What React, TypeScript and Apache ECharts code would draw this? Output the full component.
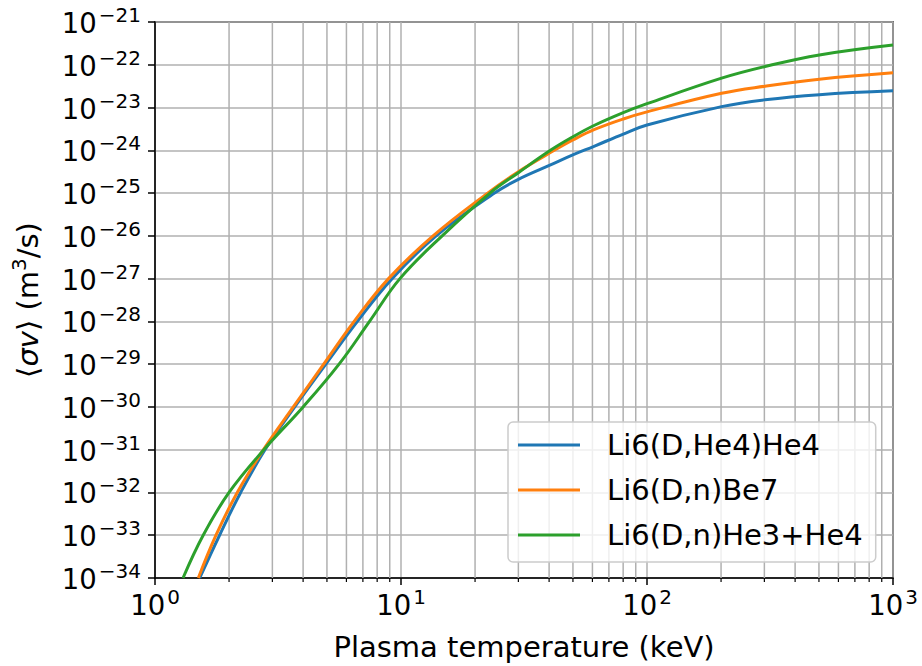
import React, { useEffect, useRef } from "react";
import * as echarts from "echarts";

// ---- data (T in keV, <sigma v> in m^3/s) ----
const seriesNames = ["Li6(D,He4)He4", "Li6(D,n)Be7", "Li6(D,n)He3+He4"];
const seriesColors = ["#1f77b4", "#ff7f0e", "#2ca02c"];

const blueT = [1.52, 1.83, 2.23, 2.8, 3.7, 4.95, 6.65, 9.2, 13.9, 24, 30, 40.3, 50.2, 60.9, 80.1, 100, 201, 302, 502, 1000];
const blueSV = [1e-34, 1e-33, 1e-32, 1e-31, 1e-30, 1e-29, 1e-28, 1e-27, 1e-26, 1e-25, 2.1e-25, 4.5e-25, 7.9e-25, 1.24e-24, 2.4e-24, 3.9e-24, 1.05e-23, 1.52e-23, 2.0e-23, 2.46e-23];

const orangeT = [1.5, 1.77, 2.16, 2.76, 3.65, 4.85, 6.45, 8.9, 13.5, 22.5, 30, 42, 50.2, 60.9, 80.1, 100, 201, 302, 502, 1000];
const orangeSV = [1e-34, 1e-33, 1e-32, 1e-31, 1e-30, 1e-29, 1e-28, 1e-27, 1e-26, 1e-25, 3.15e-25, 1e-24, 1.77e-24, 3.03e-24, 5.4e-24, 7.9e-24, 2.15e-23, 3.15e-23, 4.6e-23, 6.5e-23];

const greenT = [1.3, 1.57, 2.0, 2.77, 4.0, 5.6, 7.45, 9.9, 14.7, 23, 30, 40.5, 50.2, 60.9, 80.1, 100, 201, 302, 502, 1000];
const greenSV = [1e-34, 1e-33, 1e-32, 1e-31, 1e-30, 1e-29, 1e-28, 1e-27, 1e-26, 1e-25, 3.0e-25, 1e-24, 2.1e-24, 3.8e-24, 7.6e-24, 1.23e-23, 4.86e-23, 9.1e-23, 1.7e-22, 2.9e-22];

const xMin = 1;
const xMax = 1000;
// y axis drawn in decades (log10 of <sigma v>)
const yMinExp = -34;
const yMaxExp = -21;
const minorXTicks = [2, 3, 4, 5, 6, 7, 8, 9, 20, 30, 40, 50, 60, 70, 80, 90, 200, 300, 400, 500, 600, 700, 800, 900];

const xTitle = "Plasma temperature (keV)";

const FONT = "DejaVu Sans";

function expLabel(e: number): string {
  const s = e < 0 ? "\u2212" + String(-e) : String(e);
  return `{b|10}{s|${s}}`;
}

const tickRich = {
  b: { fontSize: 27.5, fontFamily: FONT, color: "#000", lineHeight: 30, verticalAlign: "bottom" },
  s: { fontSize: 20, fontFamily: FONT, color: "#000", lineHeight: 22, padding: [0, 0, 12, 2], verticalAlign: "bottom" },
};

export default function App() {
  const ref = useRef<HTMLDivElement>(null);
  useEffect(() => {
    if (!ref.current) return;
    const chart = echarts.init(ref.current, undefined, { renderer: "svg" });
    const tData = [blueT, orangeT, greenT];
    const vData = [blueSV, orangeSV, greenSV];
    const lineSeries = seriesNames.map((name, k) => ({
      type: "line",
      name,
      data: tData[k].map((t, i) => [t, Math.log10(vData[k][i])]),
      smooth: 0.4,
      symbol: "none",
      showSymbol: false,
      lineStyle: { width: 3, color: seriesColors[k] },
      itemStyle: { color: seriesColors[k] },
      z: 3,
    }));
    const option: any = {
      animation: false,
      grid: {
        left: 155,
        right: 29,
        top: 22,
        bottom: 88,
        containLabel: false,
        outerBoundsMode: "none",
        show: true,
        borderColor: "#000",
        borderWidth: 1.5,
        backgroundColor: "transparent",
      },
      legend: {
        data: seriesNames.map((n) => ({ name: n, icon: "rect" })),
        orient: "vertical",
        left: 508,
        top: 422,
        padding: [8, 13, 12, 10],
        itemWidth: 62,
        itemHeight: 3,
        itemGap: 15,
        backgroundColor: "rgba(255,255,255,0.8)",
        borderColor: "#cccccc",
        borderWidth: 1.5,
        borderRadius: 5,
        textStyle: { fontSize: 29, fontFamily: FONT, color: "#000", lineHeight: 30, padding: [0, 0, 0, 22] },
      },
      xAxis: {
        type: "log",
        logBase: 10,
        min: xMin,
        max: xMax,
        name: xTitle,
        nameLocation: "middle",
        nameGap: 52,
        nameTextStyle: { fontSize: 29, fontFamily: FONT, color: "#000", lineHeight: 34 },
        axisLine: { show: true, lineStyle: { color: "#000", width: 1.5 } },
        axisTick: { show: true, inside: false, length: 7, lineStyle: { color: "#000", width: 1.5 } },
        axisLabel: {
          margin: 11,
          formatter: (v: number) => expLabel(Math.round(Math.log10(v))),
          rich: tickRich,
          color: "#000",
        },
        splitLine: { show: true, lineStyle: { color: "#b0b0b0", width: 1.5 } },
        minorTick: { show: false },
      },
      yAxis: {
        type: "value",
        min: yMinExp,
        max: yMaxExp,
        interval: 1,
        name: "{n|\u27e8}{i|\u03c3v}{n|\u27e9 (m}{s|3}{n|/s)}",
        nameLocation: "middle",
        nameGap: 113,
        nameRotate: 90,
        nameTextStyle: {
          rich: {
            n: { fontSize: 29, fontFamily: FONT, color: "#000", lineHeight: 34, verticalAlign: "bottom" },
            i: { fontSize: 29, fontFamily: FONT, fontStyle: "italic", color: "#000", lineHeight: 34, verticalAlign: "bottom" },
            s: { fontSize: 20, fontFamily: FONT, color: "#000", lineHeight: 24, padding: [0, 0, 13, 0], verticalAlign: "bottom" },
          },
        },
        axisLine: { show: true, onZero: false, lineStyle: { color: "#000", width: 1.5 } },
        axisTick: { show: true, inside: false, length: 7, lineStyle: { color: "#000", width: 1.5 } },
        axisLabel: { margin: 14, formatter: (v: number) => expLabel(Math.round(v)), rich: tickRich, color: "#000" },
        splitLine: { show: true, lineStyle: { color: "#b0b0b0", width: 1.5 } },
      },
      series: [
        {
          type: "custom",
          silent: true,
          clip: false,
          z: 1,
          data: minorXTicks.map((t) => [t, yMinExp]),
          renderItem: (params: any, api: any) => {
            const t = api.value(0);
            const top = api.coord([t, yMaxExp]);
            const bot = api.coord([t, yMinExp]);
            return {
              type: "group",
              children: [
                {
                  type: "line",
                  shape: { x1: bot[0], y1: top[1], x2: bot[0], y2: bot[1] },
                  style: { stroke: "#b0b0b0", lineWidth: 1.5 },
                },
                {
                  type: "line",
                  shape: { x1: bot[0], y1: bot[1], x2: bot[0], y2: bot[1] + 4 },
                  style: { stroke: "#000", lineWidth: 1.2 },
                },
              ],
            };
          },
        },
        ...lineSeries,
      ],
    };
    chart.setOption(option);
    return () => chart.dispose();
  }, []);
  return (
    <div
      ref={ref}
      style={{ position: "absolute", left: 0, top: 0, width: 922, height: 666, background: "#fff" }}
    />
  );
}
